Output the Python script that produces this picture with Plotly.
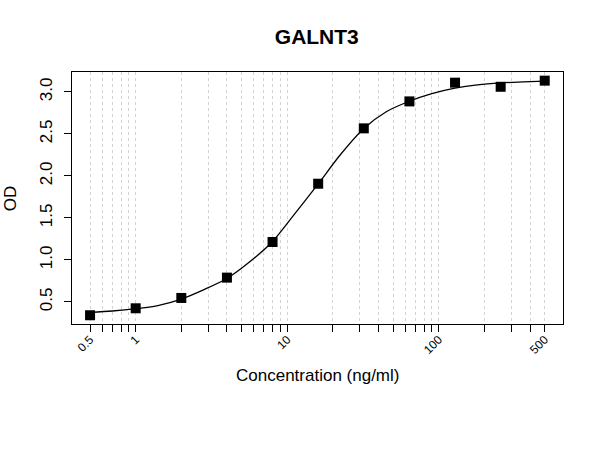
import numpy as np
import plotly.graph_objects as go

# measured standards
conc = [0.5, 1, 2, 4, 8, 16, 32, 64, 128, 256, 500]
od = [0.342, 0.425, 0.548, 0.79, 1.214, 1.908, 2.567, 2.888, 3.111, 3.062, 3.135]

# fitted curve
curve_conc = [0.5, 0.7, 1, 1.4, 2, 2.8, 4, 5.5, 8, 11, 16, 22, 32, 45, 64, 90, 128, 180, 256, 360, 500]
curve_od = [0.377, 0.393, 0.42, 0.458, 0.535, 0.645, 0.78, 0.96, 1.22, 1.53, 1.905,
            2.235, 2.565, 2.765, 2.89, 2.98, 3.045, 3.085, 3.108, 3.12, 3.13]

x_ticks = [0.5, 0.6, 0.7, 0.8, 0.9, 1, 2, 3, 4, 5, 6, 7, 8, 9, 10,
           20, 30, 40, 50, 60, 70, 80, 90, 100, 200, 300, 400, 500]
x_labels = {0.5: "0.5", 1: "1", 10: "10", 100: "100", 500: "500"}
y_ticks = [0.5, 1.0, 1.5, 2.0, 2.5, 3.0]

font = "Liberation Sans, Arial, sans-serif"

fig = go.Figure()
fig.add_trace(go.Scatter(x=curve_conc, y=curve_od, mode="lines",
                         line=dict(color="black", width=1.3, shape="spline", smoothing=0.8),
                         hoverinfo="skip"))
fig.add_trace(go.Scatter(x=conc, y=od, mode="markers",
                         marker=dict(symbol="square", size=10, color="black")))

fig.update_layout(
    width=600, height=450,
    margin=dict(l=72, r=37, t=72, b=126),
    paper_bgcolor="white", plot_bgcolor="white",
    showlegend=False,
    font=dict(family=font, color="black"),
    title=dict(text="<b>GALNT3</b>", x=0.528, xanchor="center",
               y=1 - 37 / 450, yanchor="middle", yref="container",
               font=dict(size=21, family=font)),
)

fig.update_xaxes(
    type="log", range=[np.log10(0.38), np.log10(660)],
    tickvals=x_ticks, ticktext=[x_labels.get(v, "") for v in x_ticks],
    tickangle=-45, tickfont=dict(size=12), ticklabelstandoff=-4,
    ticks="outside", ticklen=7, tickcolor="black",
    showgrid=True, gridcolor="#d3d3d3", griddash="dot", gridwidth=1,
    showline=True, linecolor="black", linewidth=1, mirror=True,
    zeroline=False, automargin=False,
)
fig.update_yaxes(
    range=[0.238, 3.238],
    tickvals=y_ticks, ticktext=["%.1f" % v for v in y_ticks],
    tickangle=-90, tickfont=dict(size=17), ticklabelstandoff=5,
    ticks="outside", ticklen=7, tickcolor="black",
    showgrid=False,
    showline=True, linecolor="black", linewidth=1, mirror=True,
    zeroline=False, automargin=False,
)

fig.add_annotation(text="Concentration (ng/ml)", xref="paper", yref="paper",
                   x=0.5, y=-0.206, xanchor="center", yanchor="middle",
                   showarrow=False, font=dict(size=17))
fig.add_annotation(text="OD", xref="paper", yref="paper",
                   x=-0.126, y=0.5, xanchor="center", yanchor="middle",
                   textangle=-90, showarrow=False, font=dict(size=17))

# drop the browser's default page margin so the figure sits at 0,0
fig.write_html("out.html", config={"displayModeBar": False},
               post_script="document.body.style.margin = '0';")
